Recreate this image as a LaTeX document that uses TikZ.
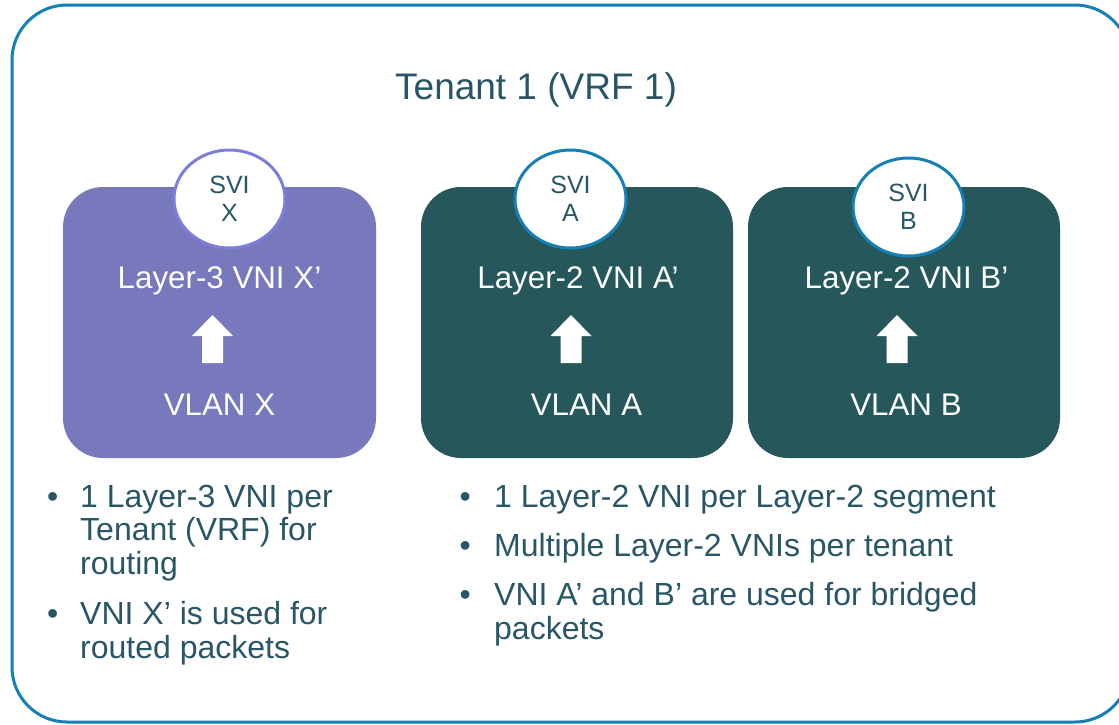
\documentclass[tikz,border=0pt]{standalone}
\usepackage{fontspec}
\setmainfont{Liberation Sans}
\usetikzlibrary{shapes.geometric}
\definecolor{outerblue}{RGB}{20,128,182}
\definecolor{purplebox}{RGB}{120,121,188}
\definecolor{purpleline}{RGB}{125,125,218}
\definecolor{tealbox}{RGB}{38,87,90}
\definecolor{txt}{RGB}{40,86,102}
\tikzset{
  vnibox/.style={rectangle, rounded corners=40pt, minimum width=312pt, minimum height=271pt, inner sep=0pt},
  svi/.style={ellipse, fill=white, line width=3pt, minimum width=111pt, minimum height=98pt, inner sep=0pt,
    text=txt, align=center, font=\fontsize{25}{28}\selectfont},
  boxtext/.style={text=white, anchor=base, inner sep=0pt, font=\fontsize{31.3}{34}\selectfont},
  bulleta/.style={text=txt, anchor=base west, inner sep=0pt, align=left, font=\fontsize{32}{33.5}\selectfont},
  bulletb/.style={text=txt, anchor=base west, inner sep=0pt, align=left, font=\fontsize{32}{34}\selectfont},
  uparrow/.pic={\fill[white] (0,0) -- (20.5,21) -- (10.5,21) -- (10.5,48) -- (-10.5,48) -- (-10.5,21) -- (-20.5,21) -- cycle;}
}
\begin{document}
\begin{tikzpicture}[x=1pt,y=-1pt]
\useasboundingbox (0,0) rectangle (1119,724);
\draw[outerblue, line width=3pt, rounded corners=55pt] (12,5) rectangle (1130,722);
\node[text=txt, anchor=base, inner sep=0pt, font=\fontsize{37}{40}\selectfont] (title) at (536,99) {Tenant 1 (VRF 1)};

\node[vnibox, fill=purplebox, minimum width=313pt] (boxX) at (219.5,322.5) {};
\node[vnibox, fill=tealbox] (boxA) at (577,322.5) {};
\node[vnibox, fill=tealbox] (boxB) at (904,322.5) {};

\node[svi, draw=purpleline] (sviX) at (229.5,199) {SVI\\X};
\node[svi, draw=outerblue] (sviA) at (570.5,199) {SVI\\A};
\node[svi, draw=outerblue] (sviB) at (908.5,207) {SVI\\B};

\node[boxtext] (l3x) at (219.5,288) {Layer-3 VNI X’};
\node[boxtext] (vlanx) at (219.5,415) {VLAN X};
\node[boxtext] (l2a) at (578,288) {Layer-2 VNI A’};
\node[boxtext] (vlana) at (586.5,415) {VLAN A};
\node[boxtext] (l2b) at (906.5,288) {Layer-2 VNI B’};
\node[boxtext] (vlanb) at (906,415) {VLAN B};

\pic at (212.5,315) {uparrow};
\pic at (571,315) {uparrow};
\pic at (897,315) {uparrow};

\node[bulleta] (ba1) at (47,507) {•};
\node[bulleta] (ta1) at (80,574) {1 Layer-3 VNI per\\Tenant (VRF) for\\routing};
\node[bulleta] (ba2) at (47,624) {•};
\node[bulleta] (ta2) at (80,658) {VNI X’ is used for\\routed packets};

\node[bulletb] (bb1) at (459.5,507) {•};
\node[bulletb] (tb1) at (494,507) {1 Layer-2 VNI per Layer-2 segment};
\node[bulletb] (bb2) at (459.5,556) {•};
\node[bulletb] (tb2) at (494,556) {Multiple Layer-2 VNIs per tenant};
\node[bulletb] (bb3) at (459.5,605) {•};
\node[bulletb] (tb3) at (494,639) {VNI A’ and B’ are used for bridged\\packets};
\end{tikzpicture}
\end{document}
